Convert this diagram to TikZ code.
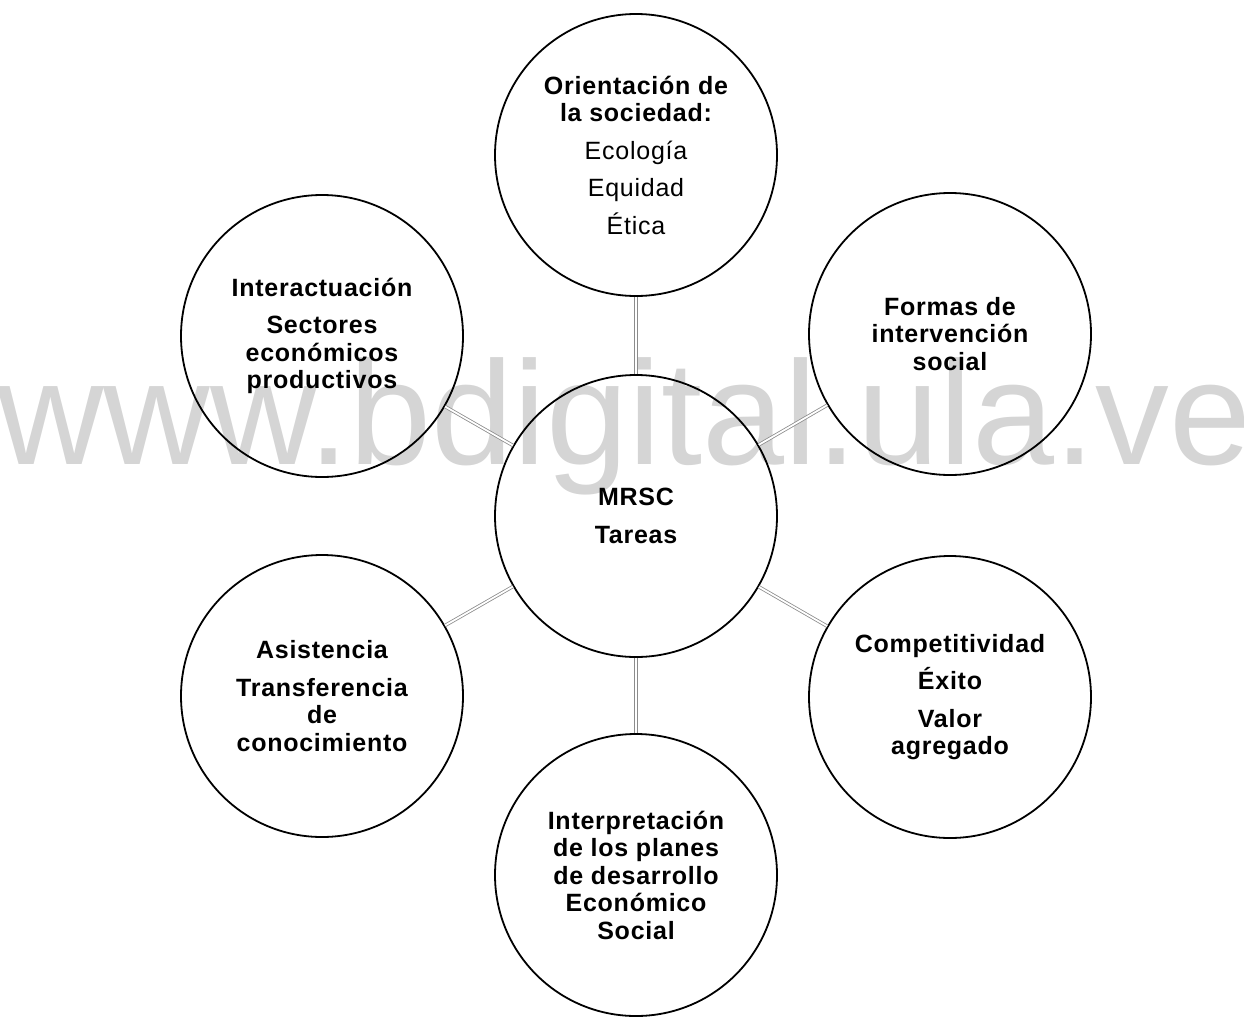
\documentclass[tikz,border=0pt]{standalone}
\usepackage{fontspec}
\setmainfont{Liberation Sans}
\newfontfamily\bubfont[LetterSpace=3]{Liberation Sans}
\definecolor{wmgray}{RGB}{213,213,213}
\definecolor{conngray}{RGB}{140,140,140}
\tikzset{
  bub/.style={circle, draw=black, line width=1.8pt, minimum size=282pt, inner sep=0pt,
    align=center, font=\bubfont\fontsize{25}{27.5}\selectfont\bfseries},
  link/.style={draw=conngray, line width=0.8pt, double=white, double distance=1.8pt},
  wmark/.style={text=wmgray, font=\fontsize{147.5}{147.5}\selectfont, inner sep=0pt, anchor=base west}
}
\begin{document}
\begin{tikzpicture}[x=1pt,y=-1pt]
\useasboundingbox (0,0) rectangle (1244,1017);
\node[wmark] (wm) at (-3,464) {www.bdigital.ula.ve};
\node[bub] (c) at (636,516) {MRSC\\[10pt]Tareas};
\node[bub] (t) at (636,155) {Orientación de\\la sociedad:\\[10pt]{\mdseries Ecología}\\[10pt]{\mdseries Equidad}\\[10pt]{\mdseries Ética}};
\node[bub] (ul) at (322,336) {Interactuación\\[10pt]Sectores\\económicos\\productivos};
\node[bub] (ur) at (950,334) {Formas de\\intervención\\social};
\node[bub] (ll) at (322,696) {Asistencia\\[10pt]Transferencia\\de\\conocimiento};
\node[bub] (lr) at (950,697) {Competitividad\\[10pt]Éxito\\[10pt]Valor\\agregado};
\node[bub] (b) at (636,875) {Interpretación\\de los planes\\de desarrollo\\Económico\\Social};
\draw[link] (c) -- (t);
\draw[link] (c) -- (ul);
\draw[link] (c) -- (ur);
\draw[link] (c) -- (ll);
\draw[link] (c) -- (lr);
\draw[link] (c) -- (b);
\end{tikzpicture}
\end{document}
